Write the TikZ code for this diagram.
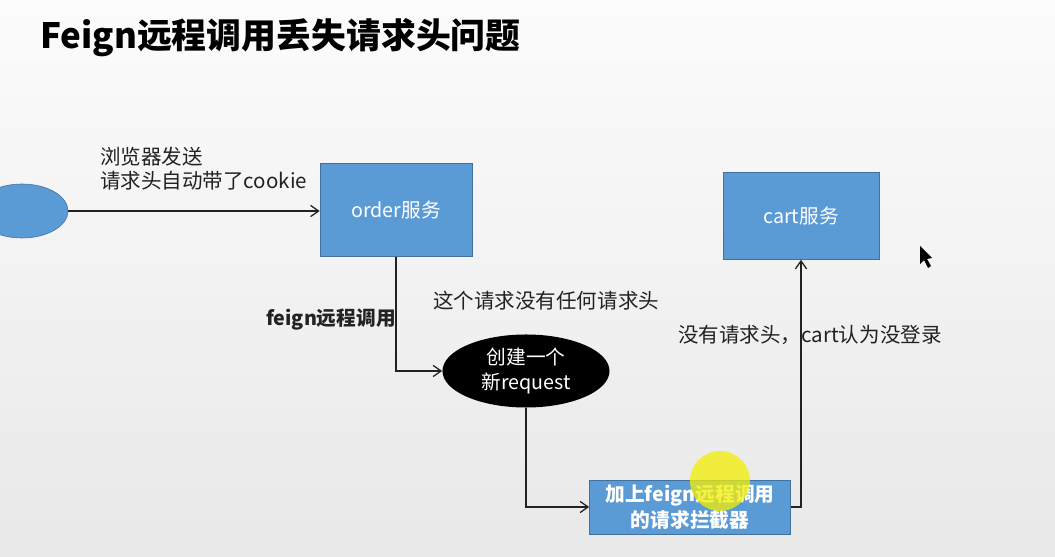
\documentclass[tikz,border=0pt]{standalone}
\usepackage{fontspec}
\setmainfont{Noto Sans CJK SC}
\usetikzlibrary{shapes.geometric,arrows.meta}
\definecolor{boxblue}{RGB}{91,155,213}
\definecolor{boxedge}{RGB}{65,113,156}
\definecolor{inktext}{RGB}{34,34,34}

\begin{document}
\begin{tikzpicture}[x=0.025cm,y=-0.025cm,
		svc/.style={rectangle,draw=boxedge,fill=boxblue,text=white,inner sep=0pt,font=\fontsize{14}{17}\selectfont},
		arrow/.style={draw=inktext,line width=0.9pt,-{Straight Barb[length=2mm,width=2.8mm]}},
		lbl/.style={inner sep=0pt,text=inktext,align=left,font=\fontsize{14.6}{17}\selectfont}]
		% background
		\useasboundingbox (0,0) rectangle (1055,557);
		\shade[top color={rgb,255:red,252;green,252;blue,252},bottom color={rgb,255:red,232;green,232;blue,232}] (0,0) rectangle (1055,557);
		\clip (0,0) rectangle (1055,557);
		% title
		\node[anchor=west,inner sep=0pt,font=\fontsize{24.8}{28}\selectfont\bfseries] (title) at (40,38) {Feign远程调用丢失请求头问题};
		% browser, services and steps
		\node[ellipse,draw=boxedge,fill=boxblue,minimum width=2.3cm,minimum height=1.35cm] (browser) at (22,211) {};
		\node[svc,minimum width=3.8cm,minimum height=2.325cm] (order) at (396,210) {order服务};
		\node[svc,minimum width=3.9cm,minimum height=2.175cm] (cart) at (801,216) {cart服务};
		\node[ellipse,fill=black,text=white,inner sep=0pt,minimum width=4.175cm,minimum height=1.825cm,align=center,font=\fontsize{14}{18}\selectfont] (newreq) at (526,371) {创建一个\\新request};
		\node[svc,minimum width=5.025cm,minimum height=1.35cm,align=center,font=\fontsize{14}{19}\selectfont\bfseries] (interceptor) at (690,507) {加上feign远程调用\\的请求拦截器};
		% connectors
		\draw[arrow] (browser.east) -- (browser.east -| order.west);
		\draw[arrow] (order.south) |- (newreq.west);
		\draw[arrow] (newreq.south) |- (interceptor.west);
		\draw[arrow] (interceptor.east) -| (cart.south);
		% labels
		\node[lbl,anchor=north west] (sendlbl) at (100,147) {浏览器发送\\请求头自动带了cookie};
		\node[lbl,anchor=east,font=\fontsize{14}{17}\selectfont\bfseries] (feignlbl) at (396,320) {feign远程调用};
		\node[lbl,anchor=west] (noheadlbl) at (433,301) {这个请求没有任何请求头};
		\node[lbl,anchor=west] (cartlbl) at (678,335) {没有请求头，cart认为没登录};
		% cursor highlight and pointer
		\fill[yellow!95!green,opacity=0.75] (720,481) circle (30);
		\fill[black] (920,246) -- (920,264) -- (924,260) -- (928,268) -- (931,266) -- (927,259) -- (932,258) -- cycle;
	\end{tikzpicture}
\end{document}
